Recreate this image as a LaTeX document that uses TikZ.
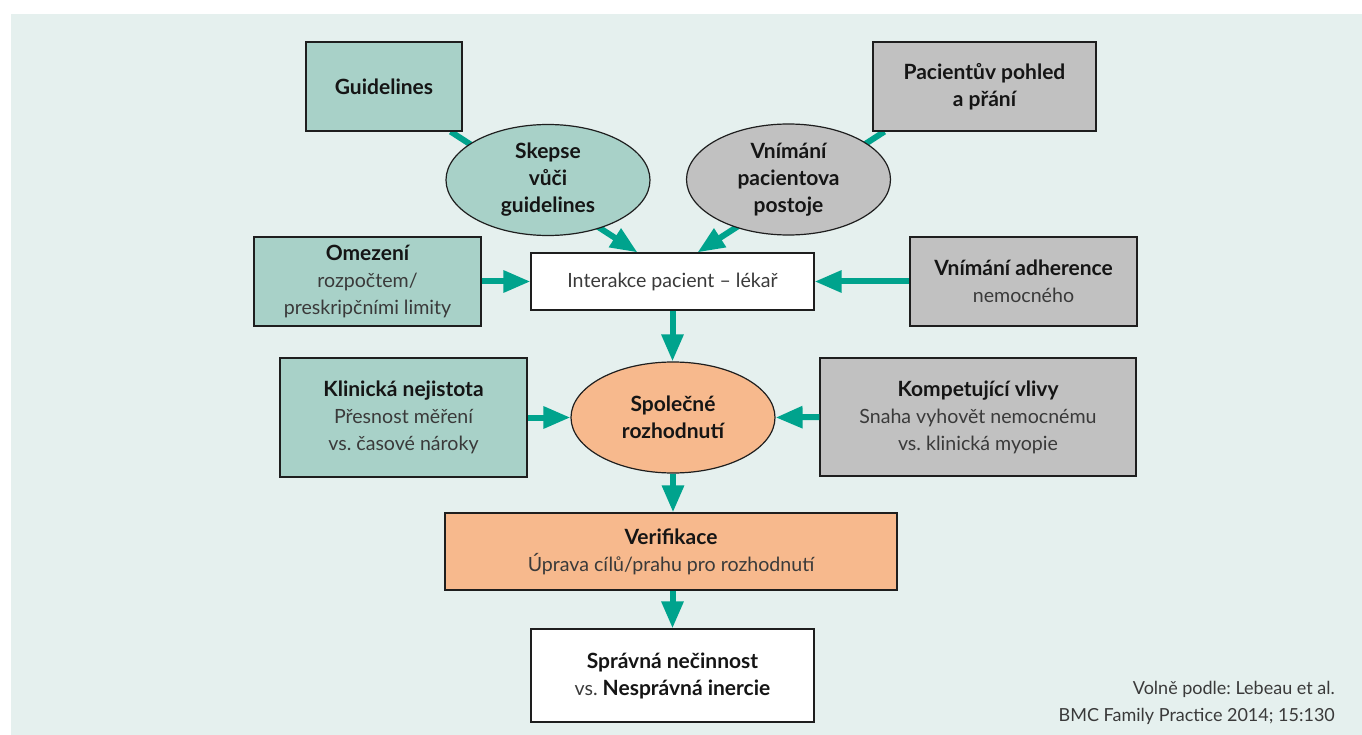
\documentclass[tikz,border=0pt]{standalone}
\usepackage{fontspec}
\setmainfont{Lato}
\frenchspacing
\usetikzlibrary{shapes.geometric,arrows.meta}
\definecolor{bgc}{HTML}{E5F0EE}
\definecolor{tealf}{HTML}{A8D1C8}
\definecolor{grayf}{HTML}{C1C1C1}
\definecolor{orangef}{HTML}{F7B98D}
\definecolor{arrc}{HTML}{00A38D}
\definecolor{bordc}{HTML}{1E1E1E}
\definecolor{txtc}{HTML}{3A3A3A}
\definecolor{hdc}{HTML}{151515}
\newcommand\mhd[1]{{\fontsize{21}{27}\selectfont\bfseries\color{hdc}#1}}
\pgfdeclarelayer{back}
\pgfdeclarelayer{mid}
\pgfsetlayers{back,mid,main}
\begin{document}
\begin{tikzpicture}[x=1pt,y=-1pt,
  every node/.style={font=\fontsize{19.6}{27}\selectfont\frenchspacing, text=txtc},
  tbox/.style={rectangle, draw=bordc, line width=1.2pt, inner sep=0pt, align=center},
  ebox/.style={ellipse, draw=bordc, line width=1.2pt, inner sep=0pt, align=center, minimum width=204pt, minimum height=111pt},
  arr/.style={draw=arrc, line width=6pt, -{Triangle[length=27pt,width=21pt]}},
  conn/.style={draw=arrc, line width=6pt}
]
\useasboundingbox (0,0) rectangle (1362,735);
\begin{pgfonlayer}{back}
\fill[bgc] (11,14) rectangle (1362,735);
\end{pgfonlayer}

% top row
\node[tbox, fill=tealf, minimum width=156pt, minimum height=89pt] (guide) at (384,86.5) {\mhd{Guidelines}};
\node[tbox, fill=grayf, minimum width=223pt, minimum height=89pt] (pac) at (984.5,86.5) {\mhd{Pacientův pohled}\\\mhd{a přání}};

% ellipses
\node[ebox, fill=tealf] (skep) at (548,180) {\mhd{Skepse}\\\mhd{vůči}\\\mhd{guidelines}};
\node[ebox, fill=grayf] (vnim) at (788.5,179.5) {\mhd{Vnímání}\\\mhd{pacientova}\\\mhd{postoje}};

% second row
\node[tbox, fill=tealf, minimum width=227pt, minimum height=89pt] (omez) at (367.5,281.5) {\mhd{Omezení}\\rozpočtem/\\preskripčními limity};
\node[tbox, fill=white, minimum width=283pt, minimum height=57pt] (inter) at (672.5,281.5) {Interakce pacient – lékař};
\node[tbox, fill=grayf, minimum width=227pt, minimum height=89pt] (adh) at (1023.5,281.5) {\mhd{Vnímání adherence}\\nemocného};

% third row
\node[tbox, fill=tealf, minimum width=247pt, minimum height=119pt] (klin) at (403.5,417.5) {\mhd{Klinická nejistota}\\Přesnost měření\\vs. časové nároky};
\node[ebox, fill=orangef] (spol) at (673,417.5) {\mhd{Společné}\\\mhd{rozhodnutí}};
\node[tbox, fill=grayf, minimum width=316pt, minimum height=118pt] (komp) at (978,417) {\mhd{Kompetující vlivy}\\Snaha vyhovět nemocnému\\vs. klinická myopie};

% bottom
\node[tbox, fill=orangef, minimum width=452pt, minimum height=77pt] (verif) at (671,551.5) {\mhd{Verifikace}\\Úprava cílů/prahu pro rozhodnutí};
\node[tbox, fill=white, minimum width=283pt, minimum height=93pt] (fin) at (672.5,675.5) {\mhd{Správná nečinnost}\\vs. \mhd{Nesprávná inercie}};

% credit
\node[anchor=east, align=right, inner sep=0pt, font=\fontsize{18}{27}\selectfont\frenchspacing] (cred) at (1335,702.5) {Volně podle: Lebeau et al.\\BMC Family Practice 2014; 15:130};

% connectors
\coordinate (gA) at ([xshift=-12pt]guide.south east);
\coordinate (pA) at ([xshift=12pt]pac.south west);
\coordinate (tL) at ([xshift=-35pt]inter.north);
\coordinate (tR) at ([xshift=25pt]inter.north);
\begin{pgfonlayer}{mid}
\draw[arr] (gA) -- (tL);
\draw[arr] (pA) -- (tR);
\end{pgfonlayer}
\draw[arr] (omez.east) -- (inter.west);
\draw[arr] (adh.west) -- (inter.east);
\draw[arr] (inter.south) -- (inter.south |- spol.north);
\draw[arr] (klin.east) -- (spol.west);
\draw[arr] (komp.west) -- (spol.east);
\draw[arr] (spol.south) -- (spol.south |- verif.north);
\draw[arr] (fin.north |- verif.south) -- (fin.north);
\end{tikzpicture}
\end{document}
